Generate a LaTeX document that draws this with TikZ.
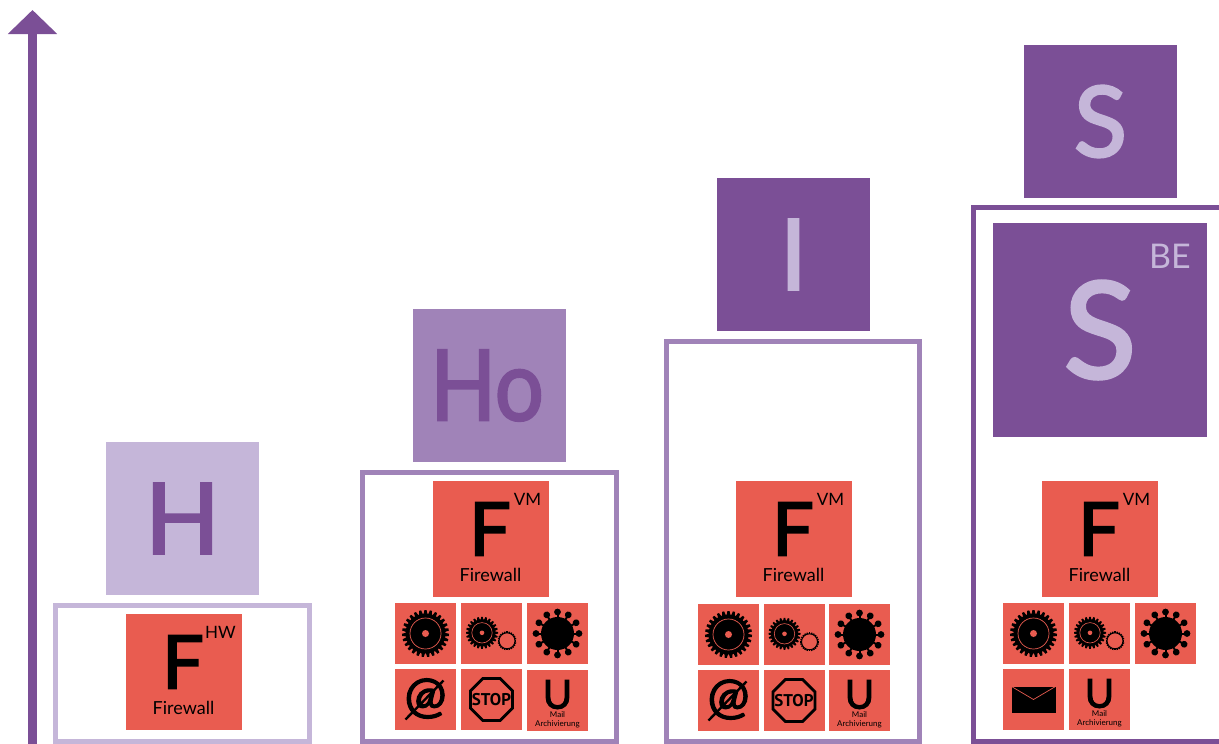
\documentclass[tikz,border=0pt]{standalone}
\usepackage{fontspec}
\setmainfont{Lato}
\newfontfamily\stopfont{PT Sans}
\newfontfamily\grossfont[FakeBold=2.5]{Lato}
\usetikzlibrary{arrows.meta}

\definecolor{lila}{HTML}{7B4F96}
\definecolor{lilamid}{HTML}{A083B8}
\definecolor{lilalight}{HTML}{C5B6D9}
\definecolor{rot}{HTML}{E95C50}

\newcommand{\fsz}[1]{\fontsize{#1}{#1}\selectfont}

\tikzset{
    x=1pt, y=-1pt,
    quad/.style={minimum size=153pt, inner sep=0pt, outer sep=0pt, font=\grossfont\fsz{98}},
    rahmen/.style={line width=5pt},
    tile/.style={fill=rot, minimum size=61pt, inner sep=0pt, outer sep=0pt},
    fwquad/.style={fill=rot, minimum size=116pt, inner sep=0pt, outer sep=0pt},
    txt/.style={inner sep=0pt, outer sep=0pt, text=black},
    pics/gearbig/.style={code={
        \foreach \a in {0,13.33,...,359} {
            \fill[rotate=\a] (-1.9,-19) -- (-1.1,-23.5) -- (1.1,-23.5) -- (1.9,-19) -- cycle;
        }
        \fill circle (20);
        \draw[rot, line width=.7pt] circle (15.5);
        \fill[rot] circle (3.5);
    }},
    pics/gearpair/.style={code={
        \begin{scope}[shift={(-9.5,-.7)}]
            \foreach \a in {0,15,...,359} {
                \fill[rotate=\a] (-1.4,-13) -- (-.8,-16) -- (.8,-16) -- (1.4,-13) -- cycle;
            }
            \fill circle (13.5);
            \draw[rot, line width=.6pt] circle (10.2);
            \fill[rot] circle (2.3);
        \end{scope}
        \begin{scope}[shift={(15.5,7.3)}]
            \foreach \a in {0,15,...,359} {
                \fill[rotate=\a] (-.7,-8) rectangle (.7,-9.4);
            }
            \draw[line width=1pt] circle (8);
        \end{scope}
    }},
    pics/virus/.style={code={
        \fill circle (16.5);
        \foreach \a in {0,30,...,330} {
            \draw[line width=2pt, rotate=\a] (0,-15) -- (0,-21);
            \fill[rotate=\a] (0,-21.5) circle (3.4);
        }
    }},
    pics/atsign/.style={code={
        \node[txt, font=\grossfont\fsz{50}] (#1at) at (0,-1) {@};
        \draw[line width=2.4pt] (-20,20) -- (18,-19);
    }},
    pics/stopsign/.style={code={
        \draw[line width=2.8pt] (22.5:22.7) -- (67.5:22.7) -- (112.5:22.7) -- (157.5:22.7)
            -- (202.5:22.7) -- (247.5:22.7) -- (292.5:22.7) -- (337.5:22.7) -- cycle;
        \node[txt, font=\stopfont\bfseries\fsz{17}] (#1stop) at (0,0) {STOP};
    }},
    pics/umail/.style={code={
        \node[txt, font=\grossfont\fsz{40}] (#1u) at (0,-6) {U};
        \node[txt, font=\fsz{8}] (#1mail) at (0,14.5) {Mail};
        \node[txt, font=\fsz{8}] (#1arch) at (0,24) {Archivierung};
    }},
    pics/brief/.style={code={
        \fill (-22,-13) rectangle (22,13);
        \draw[rot, line width=.7pt] (-22,-13) -- (0,0) -- (22,-13);
    }},
}

% Firewall-Kachel mit Hochzeichen
\newcommand{\fwblock}[4]{
    \node[fwquad] (#1) at (#2,#3) {};
    \node[txt, font=\grossfont\fsz{74}] (#1letter) at ([xshift=-1pt,yshift=10pt]#1.center) {F};
    \node[txt, font=\fsz{17}] (#1sup) at ([xshift=36.5pt,yshift=40pt]#1.center) {#4};
    \node[txt, font=\fsz{18}] (#1name) at ([xshift=-.5pt,yshift=-36pt]#1.center) {Firewall};
}

\begin{document}
\begin{tikzpicture}
    \useasboundingbox (0,0) rectangle (1219,744);

    % Achse
    \coordinate (axisfoot) at (32.5,744);
    \coordinate (axistop) at (32.5,10);
    \draw[lila, line width=9pt, -{Triangle[length=24pt,width=48pt]}] (axisfoot) -- (axistop);

    % Rahmen
    \draw[rahmen, lilalight] (55.5,605.5) rectangle (309.5,741.5);
    \draw[rahmen, lilamid] (362.5,472.5) rectangle (616.5,741.5);
    \draw[rahmen, lilamid] (666.5,341.5) rectangle (919.5,741.5);
    \draw[rahmen, lila] (1225,207.5) -- (973.5,207.5) -- (973.5,741.5) -- (1225,741.5);

    % Grosse Quadrate
    \node[quad, fill=lilalight, text=lila] (H) at (182.5,518.5) {H};
    \node[quad, fill=lilamid] (Ho) at (489.5,385.5) {};
    \node[txt, text=lila, font=\grossfont\fsz{98}, xscale=.88, transform shape] (Holetter) at ([xshift=-2.5pt]Ho.center) {Ho};
    \node[quad, fill=lila, text=lilalight] (I) at (793.5,254.5) {I};
    \node[quad, fill=lila, text=lilalight] (S) at (1100.5,121.5) {S};
    \node[quad, fill=lila, text=lilalight, minimum width=214pt, minimum height=214pt, font=\grossfont\fsz{134}] (SBE) at (1100,330) {S};
    \node[inner sep=0pt, text=lilalight, font=\fsz{34}] (BE) at (1170,256) {BE};

    % Firewalls
    \fwblock{Fa}{184}{672}{HW}
    \fwblock{Fb}{491}{539}{VM}
    \fwblock{Fc}{794}{539}{VM}
    \fwblock{Fd}{1100}{539}{VM}

    % Spalte 2
    \node[tile] (b1) at (425.5,633.5) {};
    \node[tile] (b2) at (491.5,633.5) {};
    \node[tile] (b3) at (557.5,633.5) {};
    \node[tile] (b4) at (425.5,699.5) {};
    \node[tile] (b5) at (491.5,699.5) {};
    \node[tile] (b6) at (557.5,700.5) {};
    \pic at (b1) {gearbig};
    \pic at (b2) {gearpair};
    \pic at (b3) {virus};
    \pic at (b4) {atsign=b};
    \pic at (b5) {stopsign=b};
    \pic at (b6) {umail=b};

    % Spalte 3
    \node[tile] (c1) at (728.5,634.5) {};
    \node[tile] (c2) at (794,634.5) {};
    \node[tile] (c3) at (859.5,634.5) {};
    \node[tile] (c4) at (728.5,700.5) {};
    \node[tile] (c5) at (794,700.5) {};
    \node[tile] (c6) at (859.5,700.5) {};
    \pic at (c1) {gearbig};
    \pic at (c2) {gearpair};
    \pic at (c3) {virus};
    \pic at (c4) {atsign=c};
    \pic at (c5) {stopsign=c};
    \pic at (c6) {umail=c};

    % Spalte 4
    \node[tile] (d1) at (1033.5,633.5) {};
    \node[tile] (d2) at (1099.5,633.5) {};
    \node[tile] (d3) at (1165.5,633.5) {};
    \node[tile] (d4) at (1033.5,699.5) {};
    \node[tile] (d5) at (1099.5,699.5) {};
    \pic at (d1) {gearbig};
    \pic at (d2) {gearpair};
    \pic at (d3) {virus};
    \pic at (d4) {brief};
    \pic at (d5) {umail=d};
\end{tikzpicture}
\end{document}
